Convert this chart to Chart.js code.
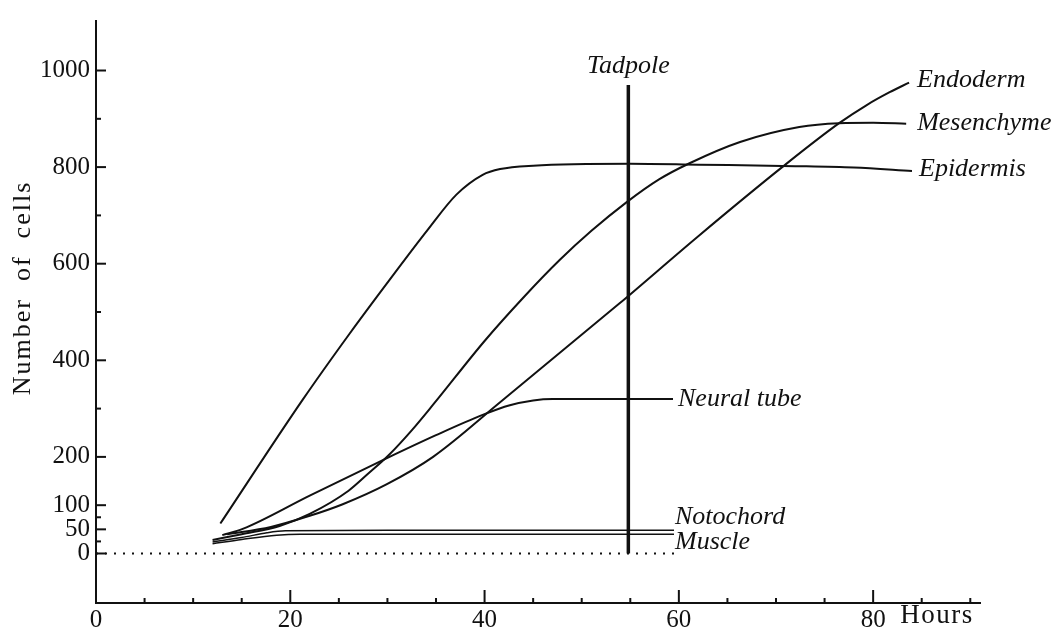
<!DOCTYPE html>
<html>
<head>
<meta charset="utf-8">
<script src="https://cdn.jsdelivr.net/npm/chart.js@4"></script>
<style>
  html, body { margin: 0; padding: 0; background: #fff; }
  #wrap { width: 1057px; height: 628px; }
</style>
</head>
<body>
<div id="wrap"><canvas id="cellChart"></canvas></div>
<script>
// cell counts per tissue against hours
const epidermisHours = [12.8, 21.3, 26.1, 30.2, 34.1, 37.1, 39.8, 41.6, 45, 55, 62, 72, 78, 84];
const epidermisCells = [62, 319, 455, 566, 669, 743, 784, 796, 803, 807, 805, 802, 799, 792];

const mesenchymeHours = [12, 15, 18.9, 22, 26, 28, 30.2, 32.5, 34.7, 40, 44, 47.7, 51, 54.6, 58, 61.1, 66.3, 72.4, 76.5, 80, 83.4];
const mesenchymeCells = [28, 40, 57, 82, 130, 165, 205, 255, 308, 440, 530, 607, 668, 727, 775, 808, 852, 883, 891, 892, 890];

const endodermHours = [13.5, 18, 22, 25.4, 29.9, 34.7, 41.6, 53.9, 62, 70.7, 76.5, 79.3, 81.7, 83.7];
const endodermCells = [40, 55, 78, 102, 143, 200, 313, 518, 657, 801, 891, 928, 955, 975];

const neuralHours = [13, 15.1, 22, 29.9, 35, 39.8, 42.6, 45, 47, 55, 59.4];
const neuralCells = [38, 51, 120, 197, 245, 287, 307, 317, 320, 320, 320];

const notochordHours = [12, 15, 17.6, 19.5, 30, 40, 50, 59.5];
const notochordCells = [24, 33, 43, 47, 48, 48, 48, 48];

const muscleHours = [12, 15, 18.6, 21, 30, 40, 50, 59.5];
const muscleCells = [20, 29, 38, 40, 40, 40, 40, 40];

const baselineHours = [0, 59.6];
const baselineCells = [0, 0];

const tadpoleHours = [54.8, 54.8];
const tadpoleCells = [0, 970];

const xTickValues = [0, 5, 10, 15, 20, 25, 30, 35, 40, 45, 50, 55, 60, 65, 70, 75, 80, 85, 90];
const xTickLabels = ['0', '', '', '', '20', '', '', '', '40', '', '', '', '60', '', '', '', '80', '', ''];
const yTickValues = [0, 25, 50, 75, 100, 200, 300, 400, 500, 600, 700, 800, 900, 1000];
const yTickLabels = ['0', '', '50', '', '100', '200', '', '400', '', '600', '', '800', '', '1000'];

const toPoints = (hours, cells) => hours.map((h, i) => ({ x: h, y: cells[i] }));

// where each curve's name sits relative to the curve's last point
const labelOffsets = {
  'Endoderm': { dx: 8, dy: 4 },
  'Mesenchyme': { dx: 11, dy: 6 },
  'Epidermis': { dx: 7, dy: 5 },
  'Neural tube': { dx: 5, dy: 7 },
  'Notochord': { dx: 1, dy: -6 },
  'Muscle': { dx: 1, dy: 15 },
  'Tadpole': { dx: 0, dy: -12, align: 'center' }
};

const serif = '"Liberation Serif", "DejaVu Serif", serif';

const annotate = {
  id: 'annotate',
  afterDraw(chart) {
    const { ctx, chartArea, scales: { x, y } } = chart;
    ctx.save();
    ctx.strokeStyle = '#111';
    ctx.lineWidth = 2;

    // tick marks point into the plot
    yTickValues.forEach((v, i) => {
      const py = y.getPixelForValue(v);
      const len = yTickLabels[i] ? 10 : 5;
      ctx.beginPath();
      ctx.moveTo(chartArea.left, py);
      ctx.lineTo(chartArea.left + len, py);
      ctx.stroke();
    });
    xTickValues.forEach((v, i) => {
      const px = x.getPixelForValue(v);
      const len = xTickLabels[i] ? 13 : 5;
      ctx.beginPath();
      ctx.moveTo(px, chartArea.bottom);
      ctx.lineTo(px, chartArea.bottom - len);
      ctx.stroke();
    });

    // curve names
    ctx.fillStyle = '#111';
    ctx.textBaseline = 'alphabetic';
    ctx.font = 'italic 26px ' + serif;
    chart.data.datasets.forEach(ds => {
      const off = labelOffsets[ds.label];
      if (!off) return;
      const last = ds.data[ds.data.length - 1];
      ctx.textAlign = off.align || 'left';
      ctx.fillText(ds.label, x.getPixelForValue(last.x) + off.dx, y.getPixelForValue(last.y) + off.dy);
    });

    ctx.font = '27px ' + serif;
    ctx.textAlign = 'left';
    ctx.letterSpacing = '1.5px';
    ctx.fillText('Hours', x.getPixelForValue(82.8), chartArea.bottom + 20);

    ctx.translate(23, (chartArea.top + chartArea.bottom) / 2 - 24);
    ctx.rotate(-Math.PI / 2);
    ctx.textAlign = 'center';
    ctx.textBaseline = 'middle';
    ctx.font = '26px ' + serif;
    ctx.letterSpacing = '2px';
    ctx.fillText('Number  of  cells', 0, 0);
    ctx.restore();
  }
};

const curve = (label, hours, cells, extra) => Object.assign({
  label: label,
  data: toPoints(hours, cells),
  showLine: true,
  borderColor: '#111',
  borderWidth: 2,
  pointRadius: 0,
  cubicInterpolationMode: 'monotone'
}, extra || {});

new Chart(document.getElementById('cellChart'), {
  type: 'scatter',
  data: {
    datasets: [
      curve('Epidermis', epidermisHours, epidermisCells),
      curve('Mesenchyme', mesenchymeHours, mesenchymeCells),
      curve('Endoderm', endodermHours, endodermCells),
      curve('Neural tube', neuralHours, neuralCells),
      curve('Notochord', notochordHours, notochordCells, { borderWidth: 1.5 }),
      curve('Muscle', muscleHours, muscleCells, { borderWidth: 1.5 }),
      curve('', baselineHours, baselineCells, { borderDash: [2, 7], borderWidth: 2 }),
      curve('Tadpole', tadpoleHours, tadpoleCells, { borderWidth: 3.5 })
    ]
  },
  options: {
    responsive: true,
    maintainAspectRatio: false,
    animation: false,
    devicePixelRatio: 1,
    layout: { padding: { left: 5, top: 15, right: 77, bottom: 0 } },
    plugins: {
      legend: { display: false },
      tooltip: { enabled: false }
    },
    scales: {
      x: {
        type: 'linear',
        min: 0,
        max: 91,
        afterBuildTicks: s => { s.ticks = xTickValues.map(v => ({ value: v })); },
        afterFit: s => { s.height = 25; },
        grid: { drawOnChartArea: false, drawTicks: false },
        border: { color: '#111', width: 2 },
        ticks: {
          autoSkip: false,
          maxRotation: 0,
          padding: 2,
          color: '#111',
          font: { family: serif, size: 25 },
          callback: v => xTickLabels[xTickValues.indexOf(v)]
        }
      },
      y: {
        type: 'linear',
        min: -102.5,
        max: 1102.5,
        afterBuildTicks: s => { s.ticks = yTickValues.map(v => ({ value: v })); },
        afterFit: s => { s.width = 91; },
        grid: { drawOnChartArea: false, drawTicks: false },
        border: { color: '#111', width: 2 },
        ticks: {
          autoSkip: false,
          padding: 6,
          color: '#111',
          font: { family: serif, size: 25 },
          callback: v => yTickLabels[yTickValues.indexOf(v)]
        }
      }
    }
  },
  plugins: [annotate]
});
</script>
</body>
</html>
